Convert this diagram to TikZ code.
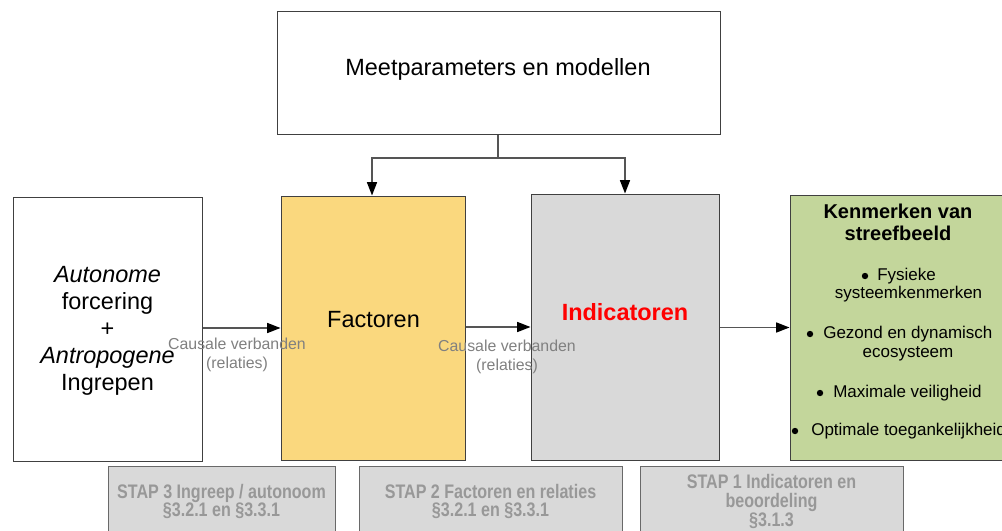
\documentclass[tikz,border=0pt]{standalone}
\usepackage{fontspec}
\setmainfont{Liberation Sans}
\newfontfamily\narrowsans[FakeStretch=0.82]{Liberation Sans}
\usetikzlibrary{arrows.meta}

\definecolor{factfill}{RGB}{250,216,126}
\definecolor{indfill}{RGB}{217,217,217}
\definecolor{kenfill}{RGB}{195,214,155}
\definecolor{boxline}{RGB}{64,64,64}
\definecolor{stapline}{RGB}{105,105,105}
\definecolor{staptext}{RGB}{152,152,152}
\definecolor{relgray}{RGB}{128,128,128}
\definecolor{connline}{RGB}{85,85,85}

\begin{document}
\begin{tikzpicture}[x=0.75pt,y=-0.75pt,
  panel/.style={draw=boxline, line width=0.75pt, rectangle, inner sep=0pt},
  stapbox/.style={draw=stapline, line width=0.75pt, fill=indfill, rectangle,
    minimum height=53.25pt, inner sep=0pt, align=center, text=staptext,
    font=\narrowsans\bfseries\fontsize{14.7}{14}\selectfont},
  bigtext/.style={inner sep=0pt, font=\fontsize{17.6}{20.25}\selectfont},
  reltext/.style={inner sep=0pt, align=center, text=relgray,
    font=\fontsize{11.9}{14.25}\selectfont},
  kentitle/.style={inner sep=0pt, anchor=base, font=\bfseries\fontsize{15}{17}\selectfont},
  kenitem/.style={inner sep=0pt, font=\fontsize{12.75}{15}\selectfont},
  dot/.style={fill=black},
  conn/.style={draw=connline, line width=1.1pt,
    -{Triangle[length=10pt,width=7.5pt,color=black]}}
]
\useasboundingbox (0,0) rectangle (1002,531);
\clip (0,0) rectangle (1002,531);

% main boxes
\node[panel, fill=white, minimum width=332.25pt, minimum height=92.25pt] (meet) at (498.5,73.5) {};
\node[panel, fill=white, minimum width=141.75pt, minimum height=198pt] (auto) at (107.5,329) {};
\node[panel, fill=factfill, minimum width=138pt, minimum height=198pt] (fact) at (373,328) {};
\node[panel, fill=indfill, minimum width=141pt, minimum height=199.5pt] (ind) at (625,327) {};
\node[panel, fill=kenfill, minimum width=168pt, minimum height=198.75pt] (ken) at (902,327.5) {};

% step boxes along the bottom
\node[stapbox, minimum width=170.25pt] (stap3) at (221.5,501.5) {STAP 3 Ingreep / autonoom\\§3.2.1 en §3.3.1};
\node[stapbox, minimum width=197.25pt] (stap2) at (490.5,501.5) {STAP 2 Factoren en relaties\\§3.2.1 en §3.3.1};
\node[stapbox, minimum width=197.25pt] (stap1) at (771.5,501.5) {STAP 1 Indicatoren en\\beoordeling\\§3.1.3};

% box texts
\node[bigtext, anchor=base] (meetT) at (498,76) {Meetparameters en modellen};
\node[bigtext, align=center] (autoT) at (107.5,330.5)
  {\textit{Autonome}\\forcering\\+\\\textit{Antropogene}\\Ingrepen};
\node[bigtext, anchor=base] (factT) at (373.5,327) {Factoren};
\node[bigtext, anchor=base, text=red, font=\bfseries\fontsize{17.6}{20.25}\selectfont] (indT) at (625,320) {Indicatoren};

% characteristics of the target state
\node[kentitle] (kenT1) at (898,218) {Kenmerken van};
\node[kentitle] (kenT2) at (898,240) {streefbeeld};
\node[kenitem, anchor=base west] (kenA) at (877,280) {Fysieke};
\node[kenitem, anchor=base] (kenA2) at (908.5,298) {systeemkenmerken};
\node[kenitem, anchor=base west] (kenB) at (823,338) {Gezond en dynamisch};
\node[kenitem, anchor=base] (kenB2) at (908,357) {ecosysteem};
\node[kenitem, anchor=base west] (kenC) at (833,397) {Maximale veiligheid};
\node[kenitem, anchor=base west] (kenD) at (811,435) {Optimale toegankelijkheid};
\fill[dot] ([shift={(-12,-4)}]kenA.base west) circle[radius=2.4pt];
\fill[dot] ([shift={(-13,-4)}]kenB.base west) circle[radius=2.4pt];
\fill[dot] ([shift={(-13,-4)}]kenC.base west) circle[radius=2.4pt];
\fill[dot] ([shift={(-16,-4)}]kenD.base west) circle[radius=2.4pt];

% connectors
\coordinate (split) at (498,158);
\draw[conn] (meet.south -| split) -- (split) -| (fact.north -| 372,0);
\draw[conn] (split) -| (ind.north);
\draw[conn] (auto.east |- fact.west) -- (fact.west);
\draw[conn] (fact.east |- ind.west) -- (ind.west);
\draw[conn] (ind.east |- ken.west) -- (ken.west);

% relation labels
\node[reltext] (rel1) at (237,354.5) {Causale verbanden\\(relaties)};
\node[reltext] (rel2) at (507,356.5) {Causale verbanden\\(relaties)};
\end{tikzpicture}
\end{document}
